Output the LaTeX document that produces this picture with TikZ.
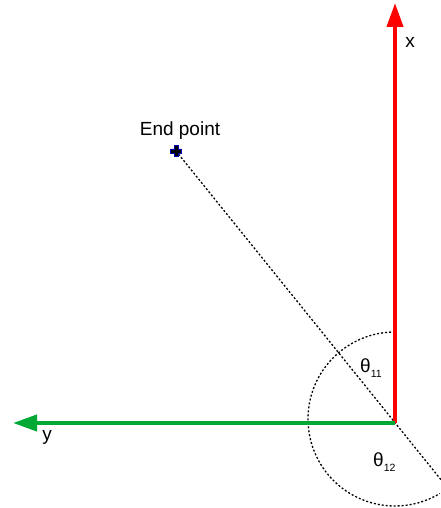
\documentclass[tikz,border=0pt]{standalone}
\usepackage{fontspec}
\setmainfont{Liberation Sans}
\usetikzlibrary{arrows.meta,calc}
\definecolor{axred}{HTML}{FF0000}
\definecolor{axgreen}{HTML}{00A933}
\tikzset{
  axis/.style={line width=4pt, -{Triangle[length=24pt,width=16pt]}},
  dotline/.style={black, line width=1.3pt, dash pattern=on 2pt off 2pt},
  lbl/.style={inner sep=0pt, font=\fontsize{19}{22}\selectfont},
}
\newcommand{\thsub}[1]{θ\raisebox{-5pt}{\fontsize{10.5}{12}\selectfont #1}}
\begin{document}
\begin{tikzpicture}[x=1pt,y=1pt]
\useasboundingbox (0,0) rectangle (441,508);
\coordinate (O) at (395,85);
\coordinate (xtip) at (395,505);
\coordinate (ytip) at (13,85);
\coordinate (E) at (176,357);
\coordinate (far) at (442,27);
\coordinate (C) at (395,89);
% dashed line
\draw[dotline] (E) -- (far);
% arc
\draw[dotline] ([shift={(90:87)}]C) arc[start angle=90, end angle=301, radius=87];
% axes
\draw[axis, axred] (O) -- (xtip);
\draw[axis, axgreen] (O) -- (ytip);
% end point marker
\fill[black, draw=blue!70!black, line width=0.7pt]
  ($(E)+(-2,5.5)$) -- ++(4,0) -- ++(0,-3.5) -- ++(3.5,0) -- ++(0,-4) -- ++(-3.5,0) -- ++(0,-3.5)
  -- ++(-4,0) -- ++(0,3.5) -- ++(-3.5,0) -- ++(0,4) -- ++(3.5,0) -- cycle;
% labels
\node[lbl] (eplbl) at (180,377) {End point};
\node[lbl] (xlbl) at (410,466) {x};
\node[lbl] (ylbl) at (47,71) {y};
\node[lbl, anchor=west] (t11) at (360,140) {\thsub{11}};
\node[lbl, anchor=west] (t12) at (373,46) {\thsub{12}};
\end{tikzpicture}
\end{document}
